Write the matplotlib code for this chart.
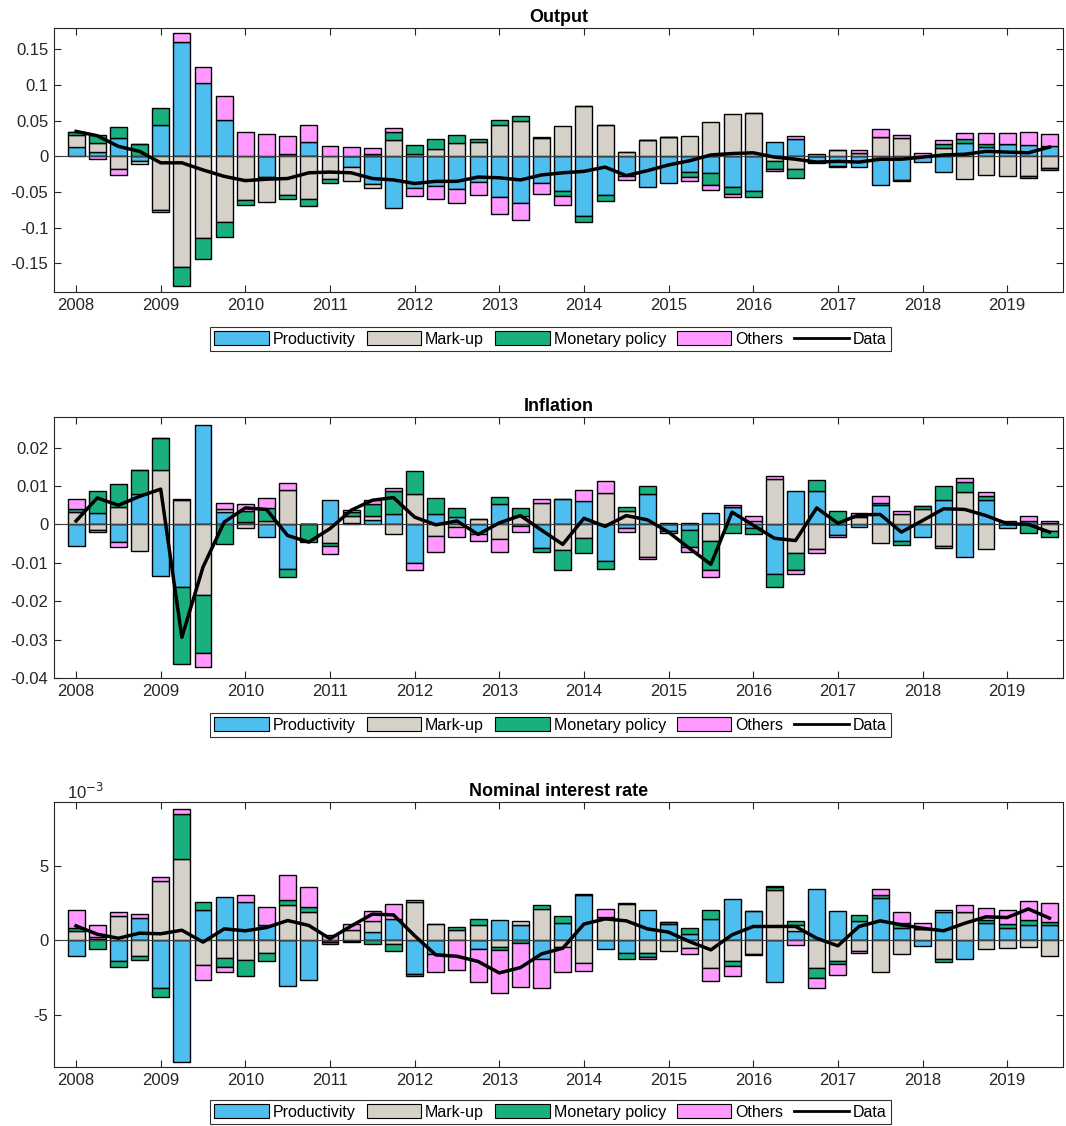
import numpy as np
import matplotlib
matplotlib.use("Agg")
import matplotlib.pyplot as plt
from matplotlib.patches import Patch
from matplotlib.lines import Line2D

plt.rcParams['font.family'] = ['Liberation Sans', 'DejaVu Sans']
plt.rcParams['axes.unicode_minus'] = False

# quarters 2008Q1 .. 2019Q3
quarters = 2008 + 0.25 * np.arange(47)
years = list(range(2008, 2020))
labels = ['Productivity', 'Mark-up', 'Monetary policy', 'Others', 'Data']

# ---- Output
out_prod = [0.0126, 0.0056, 0.0257, -0.0065, 0.044, 0.160, 0.103, 0.0505, 0, -0.029,
            0.003, 0.020, 0, -0.0154, -0.039, -0.073, -0.044, -0.041, -0.046, -0.036,
            -0.0575, -0.065, -0.037, -0.049, -0.084, -0.054, -0.028, -0.043, -0.037, -0.022,
            -0.0234, -0.0435, -0.048, 0.020, 0.0243, -0.009, -0.014, -0.0154, -0.0407, -0.0327,
            -0.008, -0.0224, 0.0187, 0.013, 0.018, 0.016, 0.014]
out_markup = [0.018, 0.013, -0.0178, -0.004, -0.0748, -0.155, -0.115, -0.092, -0.061, -0.035,
              -0.054, -0.060, -0.032, -0.0196, -0.006, 0.0234, 0.003, 0.011, 0.0187, 0.020,
              0.044, 0.050, 0.026, 0.043, 0.071, 0.0444, 0.0065, 0.023, 0.0266, 0.028,
              0.0486, 0.059, 0.061, -0.007, -0.0173, 0, 0.009, 0.0047, 0.0276, 0.0257,
              0, 0.012, -0.031, -0.0266, -0.028, -0.027, -0.0164]
out_mon = [0.004, 0.012, 0.0154, 0.0178, 0.0234, -0.026, -0.029, -0.021, -0.0065, 0,
           -0.0056, -0.009, -0.0047, 0, 0.003, 0.0107, 0.0135, 0.013, 0.0107, 0.005,
           0.0065, 0.007, 0.001, -0.007, -0.0084, -0.008, 0, 0, 0, -0.0075,
           -0.0164, -0.0098, -0.009, -0.011, -0.013, 0, -0.001, 0, 0, -0.002,
           0, 0.0056, 0.0056, 0.004, 0, -0.003, -0.003]
out_other = [0, -0.004, -0.0089, 0, -0.003, 0.0126, 0.022, 0.034, 0.0336, 0.032,
             0.026, 0.0244, 0.014, 0.0126, 0.0093, 0.005, -0.0117, -0.0187, -0.0196, -0.018,
             -0.0234, -0.024, -0.016, -0.012, 0, 0, -0.005, 0, 0, -0.0047,
             -0.007, -0.003, 0, -0.003, 0.0037, 0.003, 0, 0.004, 0.0103, 0.0047,
             0.005, 0.0056, 0.0084, 0.0164, 0.0154, 0.0187, 0.0173]
out_data = [0.035, 0.029, 0.014, 0.007, -0.009, -0.009, -0.019, -0.028, -0.034, -0.032,
            -0.031, -0.023, -0.022, -0.023, -0.031, -0.033, -0.038, -0.035, -0.035, -0.029,
            -0.030, -0.033, -0.026, -0.023, -0.021, -0.015, -0.027, -0.020, -0.012, -0.006,
            0.002, 0.004, 0.005, -0.001, -0.004, -0.008, -0.007, -0.008, -0.004, -0.004,
            -0.001, 0.002, 0.003, 0.007, 0.006, 0.005, 0.013]

# ---- Inflation
inf_prod = [-0.0057, 0.0029, -0.0046, 0.008, -0.0135, -0.0162, 0.0258, 0.0032, 0.0006, -0.0033,
            -0.0116, 0, 0.0063, 0.0004, 0.0012, 0.0028, -0.0101, 0.0026, 0.0019, -0.0026,
            0.0054, -0.0005, -0.0061, 0.0065, 0.006, -0.0094, -0.0009, 0.008, -0.0017, -0.0014,
            0.003, 0.0045, -0.0009, -0.0129, 0.0086, 0.0086, -0.0027, -0.0007, 0.005, -0.0043,
            -0.0033, 0.0064, -0.0085, 0.0064, -0.0009, 0.0009, 0.0004]
inf_markup = [0.0032, -0.0014, 0.0045, -0.007, 0.0143, 0.0063, -0.0183, 0.0009, -0.001, 0.0009,
              0.0089, 0, -0.0049, 0.0017, 0.001, -0.0026, 0.008, -0.003, -0.0007, 0.0014,
              -0.0039, 0.0021, 0.0056, -0.0066, -0.0035, 0.0082, 0.0035, -0.0085, -0.0005, 0.0004,
              -0.0042, 0, 0.0008, 0.0119, -0.0075, -0.0065, 0, 0.0019, -0.0049, 0.0026,
              0.0041, -0.0055, 0.0084, -0.0063, 0, 0, -0.0018]
inf_mon = [0.0009, 0.0058, 0.0061, 0.0063, 0.0083, -0.0202, -0.0152, -0.005, 0.0029, 0.0035,
           -0.0022, -0.0045, -0.0006, 0.0011, 0.0032, 0.0058, 0.0059, 0.0043, 0.0023, 0,
           0.0017, 0.0022, -0.0011, -0.0052, -0.004, -0.0023, 0.001, 0.0021, 0, -0.0045,
           -0.0078, -0.0022, -0.0016, -0.0035, -0.0043, 0.003, 0.0035, 0.0004, 0.0006, -0.0011,
           0.0006, 0.0035, 0.0026, 0.001, 0, -0.0023, -0.0015]
inf_other = [0.0024, -0.0005, -0.0013, 0, 0, 0.0004, -0.0036, 0.0015, 0.0017, 0.0026,
             0.0019, 0.0002, -0.0022, 0.0006, 0.0009, 0.0009, -0.0017, -0.0041, -0.0026, -0.0016,
             -0.0032, -0.0014, 0.0011, 0, 0.0029, 0.003, -0.0012, -0.0006, 0.0004, -0.0012,
             -0.0016, 0.0006, 0.0013, 0.0006, -0.001, -0.001, -0.0006, 0.0008, 0.0017, 0.0009,
             0, -0.0006, 0.0011, 0.001, 0.0009, 0.0013, 0.0006]
inf_data = [0.0009, 0.0069, 0.005, 0.0073, 0.0092, -0.0294, -0.0111, 0.0006, 0.0043, 0.0039,
            -0.0029, -0.0046, -0.0011, 0.0037, 0.0063, 0.007, 0.0019, -0.0001, 0.0009, -0.0026,
            0.0004, 0.0023, -0.0015, -0.0052, 0.0016, -0.0005, 0.0023, 0.0012, -0.002, -0.0063,
            -0.0104, 0.0032, -0.0002, -0.0036, -0.0042, 0.0043, 0.0003, 0.0025, 0.0026, -0.002,
            0.001, 0.0041, 0.0039, 0.0023, 0.0002, 0, -0.002]

# ---- Nominal interest rate (units of 1e-3)
rate_prod = [-1.05, 0.1, -1.43, 1.52, -3.23, -8.16, 2.0, 2.87, 2.56, 1.03,
             -3.05, -2.65, -0.1, -0.05, 0.58, 1.45, -2.26, -0.92, 0, -0.6,
             1.35, 0.99, -1.28, 1.14, 3.05, -0.6, -0.85, 2.04, 1.08, 0.4,
             1.41, 2.78, 1.97, -2.78, 0.65, 3.45, 1.97, 1.32, 2.83, 0.8,
             -0.36, 1.88, -1.28, 1.14, 0.8, 0.99, 1.01]
rate_markup = [0.65, 0.1, 1.6, -1.03, 4.0, 5.45, -1.7, -1.21, -1.35, -0.83,
               2.33, 1.88, 0, 0.67, 0.74, -0.27, 2.56, 1.1, 0.7, 1.03,
               -0.45, 0.31, 2.09, -0.47, -1.55, 1.55, 2.44, -0.83, -0.76, -0.54,
               -1.84, -1.43, -0.92, 3.34, 0.34, -1.88, -1.43, -0.7, -2.17, -0.92,
               0.76, -1.26, 1.88, -0.6, -0.54, -0.49, -1.05]
rate_mon = [0.16, -0.6, -0.38, -0.3, -0.56, 3.03, 0.54, -0.6, -1.08, -0.54,
            0.34, 0.34, -0.15, -0.1, -0.25, -0.43, -0.16, 0, 0.2, 0.36,
            -0.18, -0.2, 0.27, 0.47, 0.08, 0, -0.43, -0.31, 0.13, 0.45,
            0.63, -0.29, -0.1, 0.22, 0.31, -0.67, -0.16, 0.38, 0.18, 0.38,
            0, -0.18, 0, 0.2, 0.31, 0.38, 0.18]
rate_other = [1.19, 0.8, 0.3, 0.25, 0.22, 0.34, -0.99, -0.3, 0.49, 1.21,
              1.73, 1.37, 0.35, 0.43, 0.67, 0.95, 0.13, -1.23, -2.0, -2.22,
              -2.94, -2.94, -1.95, -1.7, -0.49, 0.56, 0.09, -0.13, 0, -0.38,
              -0.9, -0.67, 0, 0.11, -0.31, -0.67, -0.74, -0.13, 0.43, 0.7,
              0.38, 0.16, 0.49, 0.81, 0.9, 1.23, 1.3]
rate_data = [0.96, 0.4, 0.13, 0.47, 0.43, 0.67, -0.13, 0.76, 0.63, 0.85,
             1.32, 0.99, 0.1, 0.95, 1.75, 1.7, 0.3, -0.99, -1.08, -1.43,
             -2.2, -1.84, -0.92, -0.54, 1.08, 1.43, 1.3, 0.76, 0.54, -0.1,
             -0.65, 0.36, 0.92, 0.92, 0.92, 0.13, -0.38, 0.92, 1.3, 1.03,
             0.8, 0.63, 1.14, 1.57, 1.52, 2.1, 1.48]

colors = ['#4DBEEE', '#D5D1C9', '#1AAF7E', '#FF99FF']
tick_col = '#262626'


def decomp(ax, comps, data, title, ylim, yticks, ylabels):
    pos = np.zeros(len(quarters))
    neg = np.zeros(len(quarters))
    for vals, c in zip(comps, colors):
        v = np.asarray(vals, dtype=float)
        bottom = np.where(v >= 0, pos, neg)
        ax.bar(quarters, v, 0.2, bottom=bottom, color=c, edgecolor='black',
               linewidth=1.0, zorder=2)
        pos += np.clip(v, 0, None)
        neg += np.clip(v, None, 0)
    ax.axhline(0, color='#404040', lw=0.8, zorder=3)
    ax.plot(quarters, data, color='black', lw=2.5, zorder=4)
    ax.set_xlim(2007.74, 2019.66)
    ax.set_ylim(*ylim)
    ax.set_xticks(years)
    ax.set_xticklabels([str(y) for y in years])
    ax.set_yticks(yticks)
    ax.set_yticklabels(ylabels)
    ax.tick_params(direction='in', top=True, right=True, length=5,
                   labelsize=12, colors=tick_col, width=0.8, pad=4)
    for s in ax.spines.values():
        s.set_color(tick_col)
        s.set_linewidth(0.8)
    ax.set_title(title, fontsize=13, fontweight='bold', pad=4)


fig = plt.figure(figsize=(10.66, 11.26), dpi=100)
left, width = 0.0507, 0.9465
ax1 = fig.add_axes([left, 0.7407, width, 0.2345])
ax2 = fig.add_axes([left, 0.3979, width, 0.2318])
ax3 = fig.add_axes([left, 0.0524, width, 0.2353])

decomp(ax1, [out_prod, out_markup, out_mon, out_other], out_data, 'Output',
       (-0.19, 0.18), [-0.15, -0.1, -0.05, 0, 0.05, 0.1, 0.15],
       ['-0.15', '-0.1', '-0.05', '0', '0.05', '0.1', '0.15'])
decomp(ax2, [inf_prod, inf_markup, inf_mon, inf_other], inf_data, 'Inflation',
       (-0.04, 0.028), [-0.04, -0.03, -0.02, -0.01, 0, 0.01, 0.02],
       ['-0.04', '-0.03', '-0.02', '-0.01', '0', '0.01', '0.02'])
decomp(ax3, [rate_prod, rate_markup, rate_mon, rate_other], rate_data, 'Nominal interest rate',
       (-8.52, 9.28), [-5, 0, 5], ['-5', '0', '5'])
ax3.text(0.013, 1.002, r'10$^{-3}$', transform=ax3.transAxes, fontsize=12,
         color=tick_col, ha='left', va='bottom')

handles = [Patch(facecolor=c, edgecolor='black', linewidth=0.8) for c in colors]
handles.append(Line2D([0], [0], color='black', lw=2))
for yc in (0.6989, 0.3561, 0.0124):
    leg = fig.legend(handles, labels, loc='center', bbox_to_anchor=(0.5164, yc),
                     ncol=5, fontsize=11.5, frameon=True, fancybox=False,
                     edgecolor='black', handlelength=3.4, handleheight=0.9,
                     handletextpad=0.25, columnspacing=0.7, borderpad=0.3)
    leg.get_frame().set_linewidth(0.8)

fig.savefig('out.png', dpi=100)
